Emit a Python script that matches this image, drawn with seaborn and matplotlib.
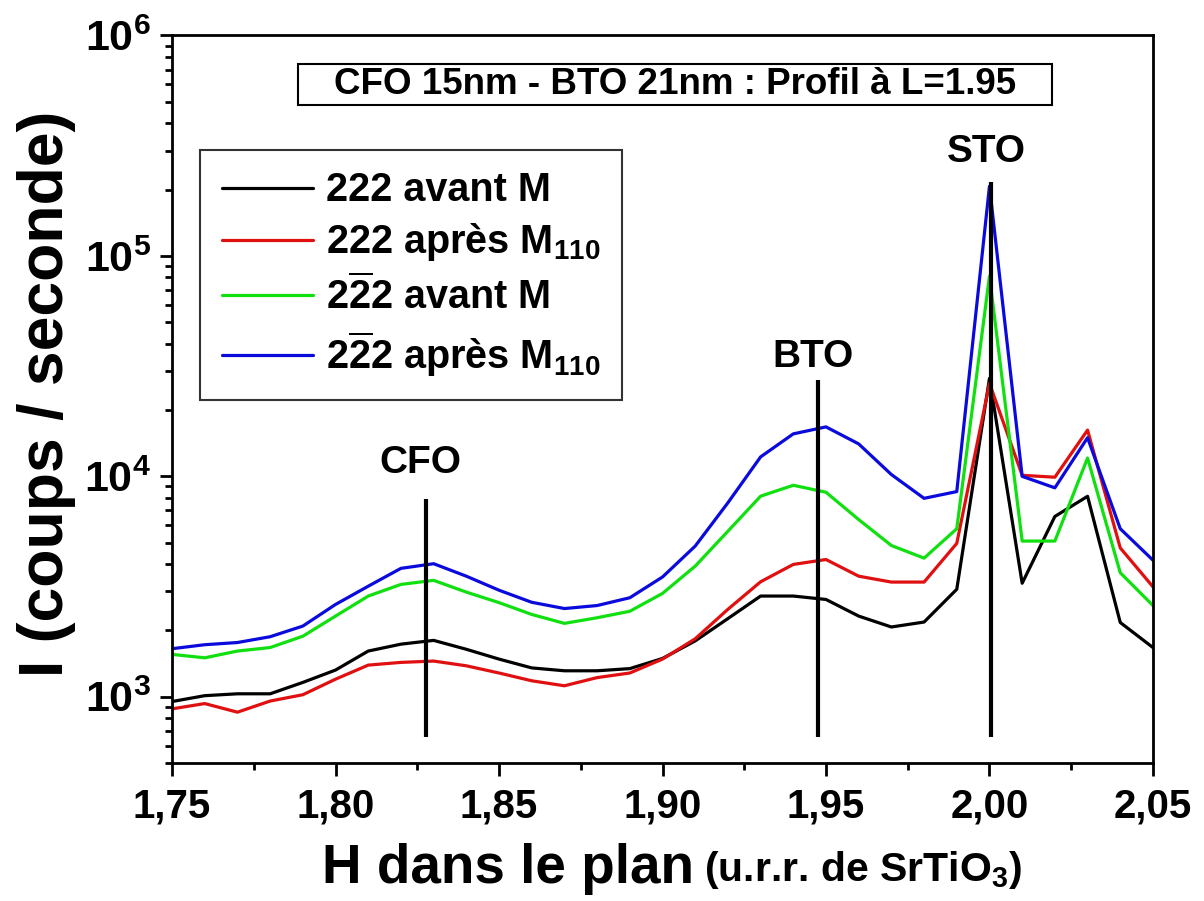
import numpy as np
import pandas as pd
import matplotlib
matplotlib.use("Agg")
import matplotlib.pyplot as plt
from matplotlib.patches import Rectangle
from matplotlib.ticker import FixedLocator, FixedFormatter, LogLocator, NullFormatter
import seaborn as sns

# DATA
h_values = [1.75, 1.76, 1.77, 1.78, 1.79, 1.80, 1.81, 1.82, 1.83, 1.84, 1.85,
            1.86, 1.87, 1.88, 1.89, 1.90, 1.91, 1.92, 1.93, 1.94, 1.95,
            1.96, 1.97, 1.98, 1.99, 2.00, 2.01, 2.02, 2.03, 2.04, 2.05]

i_222_avant = [950, 1010, 1030, 1030, 1160, 1320, 1610, 1730, 1800, 1640, 1480,
               1350, 1310, 1310, 1340, 1490, 1790, 2260, 2860, 2860, 2760,
               2320, 2070, 2180, 3070, 27800, 3270, 6570, 8110, 2170, 1670]
i_222_apres = [880, 930, 850, 955, 1020, 1200, 1390, 1430, 1450, 1380, 1280,
               1180, 1120, 1220, 1280, 1480, 1830, 2490, 3320, 3980, 4190,
               3520, 3310, 3310, 4960, 26400, 10100, 9900, 16200, 4730, 3150]
i_2b22_avant = [1555, 1500, 1610, 1670, 1880, 2320, 2860, 3230, 3370, 2980, 2670,
                2360, 2150, 2280, 2440, 2940, 3910, 5630, 8120, 9100, 8460,
                6360, 4850, 4250, 5780, 80900, 5080, 5080, 12100, 3650, 2590]
i_2b22_apres = [1650, 1720, 1760, 1870, 2090, 2620, 3170, 3820, 4010, 3520, 3040,
                2680, 2510, 2590, 2810, 3490, 4820, 7580, 12240, 15570, 16750,
                14020, 10180, 7940, 8520, 207000, 9990, 8860, 14960, 5780, 4160]

series_names = ["222 avant M",
                "222 après M$_{110}$",
                r"2$\overline{2}$2 avant M",
                r"2$\overline{2}$2 après M$_{110}$"]
series_colors = ["#000000", "#e01010", "#10e010", "#0a0adc"]

# peak markers: name, H position, bottom and top of the vertical line, label height
peak_names = ["CFO", "BTO", "STO"]
peak_h = [1.8276, 1.9475, 2.0005]
peak_bottom = [656, 658, 656]
peak_top = [7900, 27200, 216000]
peak_label_y = [11500, 34900, 296000]

x_ticks = [1.75, 1.80, 1.85, 1.90, 1.95, 2.00, 2.05]
x_tick_labels = ["1,75", "1,80", "1,85", "1,90", "1,95", "2,00", "2,05"]
y_ticks = [1e3, 1e4, 1e5, 1e6]
y_tick_labels = [r"$\mathbf{10^{3}}$", r"$\mathbf{10^{4}}$", r"$\mathbf{10^{5}}$", r"$\mathbf{10^{6}}$"]

title_text = "CFO 15nm - BTO 21nm : Profil à L=1.95"

# long table for seaborn
df = pd.DataFrame({
    "H": h_values * 4,
    "I": i_222_avant + i_222_apres + i_2b22_avant + i_2b22_apres,
    "serie": sum([[n] * len(h_values) for n in series_names], []),
})

sns.set_theme(style="white")
plt.rcParams["font.family"] = ["Liberation Sans", "DejaVu Sans"]
plt.rcParams["font.weight"] = "bold"
plt.rcParams["text.color"] = "black"
plt.rcParams["axes.labelcolor"] = "black"
plt.rcParams["xtick.color"] = "black"
plt.rcParams["ytick.color"] = "black"
plt.rcParams["mathtext.fontset"] = "custom"
plt.rcParams["mathtext.rm"] = "Liberation Sans:bold"
plt.rcParams["mathtext.it"] = "Liberation Sans:bold"
plt.rcParams["mathtext.bf"] = "Liberation Sans:bold"

fig = plt.figure(figsize=(12.04, 9.01), dpi=100)
ax = fig.add_axes([0.1429, 0.1532, 0.8147, 0.8074])

sns.lineplot(data=df, x="H", y="I", hue="serie", hue_order=series_names,
             palette=series_colors, linewidth=2.3, ax=ax, legend=False)

ax.set_yscale("log")
ax.set_xlim(1.75, 2.05)
ax.set_ylim(500, 1e6)

# peak markers
for name, hx, yb, yt, yl in zip(peak_names, peak_h, peak_bottom, peak_top, peak_label_y):
    ax.plot([hx, hx], [yb, yt], color="black", linewidth=3, solid_capstyle="butt")
    ax.text(hx - 0.0015, yl, name, ha="center", va="center", fontsize=28, fontweight="bold")

# ticks
ax.xaxis.set_major_locator(FixedLocator(x_ticks))
ax.xaxis.set_major_formatter(FixedFormatter(x_tick_labels))
ax.xaxis.set_minor_locator(FixedLocator(np.arange(1.775, 2.05, 0.05)))
ax.yaxis.set_major_locator(FixedLocator(y_ticks))
ax.yaxis.set_major_formatter(FixedFormatter(y_tick_labels))
ax.yaxis.set_minor_locator(LogLocator(base=10, subs=np.arange(2, 10)))
ax.yaxis.set_minor_formatter(NullFormatter())
ax.tick_params(axis="both", which="major", direction="out", length=9, width=2, color="black",
               bottom=True, left=True, top=False, right=False)
ax.tick_params(axis="both", which="minor", direction="out", length=5, width=2, color="black",
               bottom=True, left=True, top=False, right=False)
ax.tick_params(axis="x", which="major", labelsize=29, pad=9)
ax.tick_params(axis="y", which="major", labelsize=31, pad=6)
for sp in ax.spines.values():
    sp.set_linewidth(2)
    sp.set_color("black")

ax.set_xlabel("")
ax.set_ylabel("I (coups / seconde)", fontsize=45, fontweight="bold", va="center")
ax.yaxis.set_label_coords(-0.128, 0.508)

# x label in two sizes
fig.text(0.576, 0.020, "H dans le plan", ha="right", va="baseline", fontsize=39.5, fontweight="bold")
fig.text(0.585, 0.022, "(u.r.r. de SrTiO$_3$)", ha="left", va="baseline", fontsize=29.5,
         fontweight="bold")

# title box
ax.add_patch(Rectangle((0.1284, 0.9045), 0.7686, 0.0563, transform=ax.transAxes,
                       facecolor="white", edgecolor="black", linewidth=1.5, zorder=5))
ax.text(0.5127, 0.9325, title_text, transform=ax.transAxes, ha="center", va="center",
        fontsize=26.5, fontweight="bold", zorder=6)

# legend
handles = [plt.Line2D([], [], color=c, linewidth=2.3) for c in series_colors]
leg = ax.legend(handles, series_names, loc="upper left", bbox_to_anchor=(0.0285, 0.843),
                fontsize=28.5, frameon=True, fancybox=False, edgecolor="black",
                handlelength=2.3, handletextpad=0.33, labelspacing=0.3,
                borderpad=0.55, borderaxespad=0)
leg.get_frame().set_linewidth(1.5)
for t in leg.get_texts():
    t.set_fontweight("bold")

fig.savefig("out.png", dpi=100)
